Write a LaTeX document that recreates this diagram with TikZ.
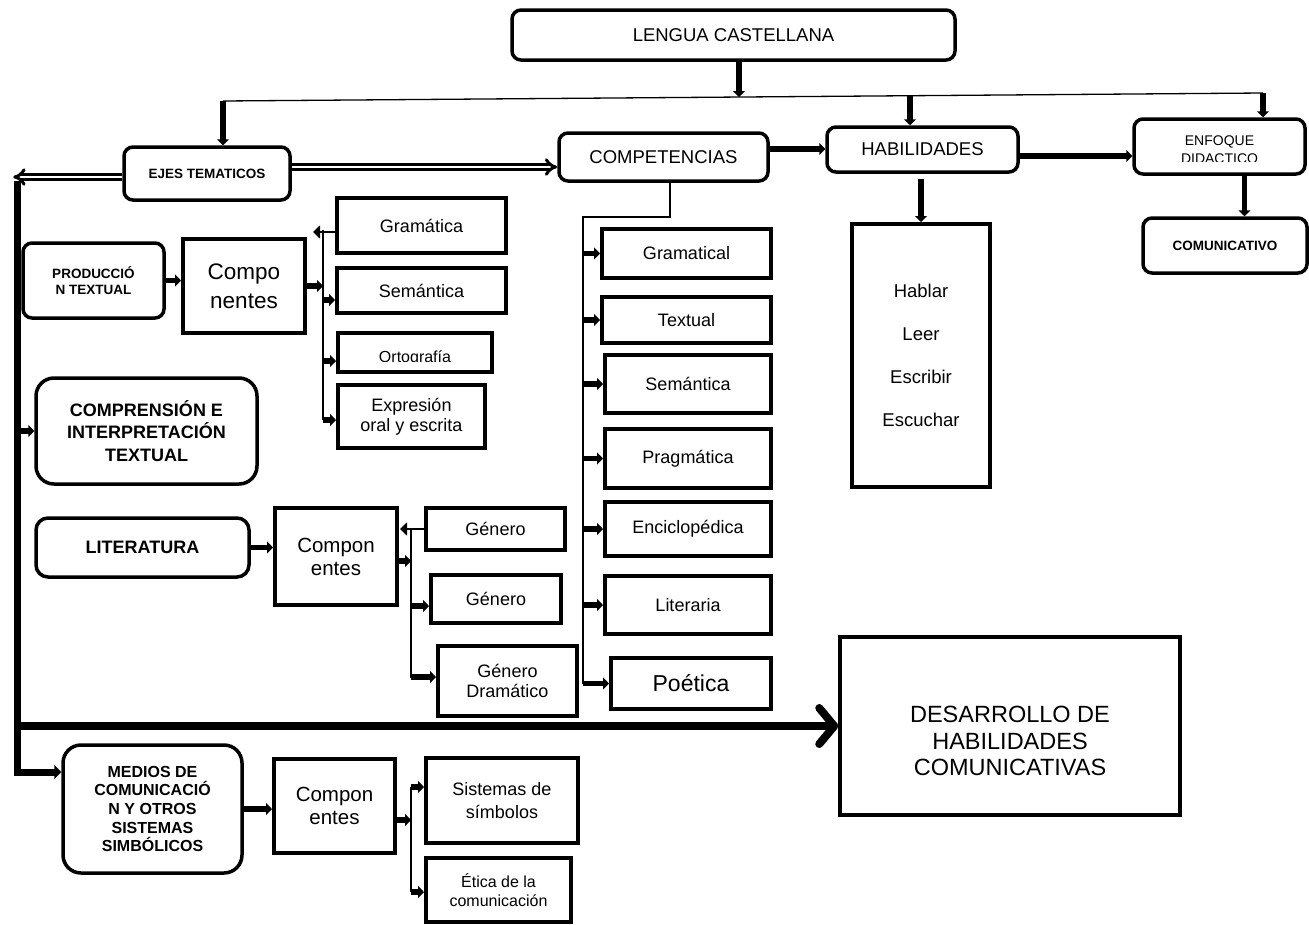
\documentclass[tikz,border=0pt]{standalone}
\usepackage{fontspec}
\setmainfont{Liberation Sans}
\usetikzlibrary{arrows.meta}
\newcommand\fsz[2]{\fontsize{#1}{#2}\selectfont}

\tikzset{
  rbox/.style={draw, line width=3.5pt, rounded corners=9pt, align=center, inner sep=0pt},
  sbox/.style={draw, line width=4pt, align=center, inner sep=0pt, font=\fsz{18}{21}},
  conn/.style={line width=1.3pt},
  arr/.style={line width=5.5pt, -{Triangle[length=6pt,width=12pt]}},
  arrs/.style={line width=2.5pt, -{Triangle[length=7pt,width=13pt]}},
  trunk/.style={line width=7pt, -{Triangle[length=7pt,width=14pt]}},
  dbl/.style={double, double distance=2.5pt, line width=3pt, -{Implies}},
  big/.style={line width=8pt, -{Straight Barb[length=15pt,width=36pt,round]}},
}

\begin{document}
\begin{tikzpicture}[x=1pt, y=-1pt]
  \useasboundingbox (0,0) rectangle (1309,924);

  % Top row
  \node[rbox, minimum width=443pt, minimum height=50pt, font=\fsz{18.5}{21}] (lc) at (733.5,35) {LENGUA CASTELLANA};
  \node[rbox, minimum width=166pt, minimum height=53pt, font=\bfseries\fsz{13.5}{16}] (ejes) at (207,173.5) {EJES TEMATICOS};
  \node[rbox, minimum width=209pt, minimum height=48pt, font=\fsz{18.5}{21}] (comp) at (663.5,157) {COMPETENCIAS};
  \node[rbox, minimum width=191pt, minimum height=45pt, font=\fsz{18.5}{21}] (hab) at (922.5,149.5) {HABILIDADES};
  \node[rbox, minimum width=171pt, minimum height=55pt] (enf) at (1219.5,146.5) {};
  \node[anchor=base, font=\fsz{14}{16}] (enfA) at (1219.5,145) {ENFOQUE};
  \begin{scope}
    \clip (1140,148) rectangle (1300,161);
    \node[anchor=base, font=\fsz{14}{16}] (enfB) at (1219.5,163) {DIDACTICO};
  \end{scope}
  \node[rbox, minimum width=164pt, minimum height=55pt, font=\bfseries\fsz{13.5}{16}] (com) at (1225,245.5) {COMUNICATIVO};
  \node[sbox, minimum width=138pt, minimum height=263pt, font=\fsz{18.5}{43}] (habl) at (921,355.5) {Hablar\\Leer\\Escribir\\Escuchar};

  % Ejes tematicos
  \node[rbox, minimum width=141pt, minimum height=75pt, font=\bfseries\fsz{13.5}{16}] (prod) at (93.5,280.5) {PRODUCCIÓ\\N TEXTUAL};
  \node[sbox, minimum width=122pt, minimum height=94pt, font=\fsz{22.5}{29}] (cmp1) at (244,286) {Compo\\nentes};
  \node[sbox, minimum width=169pt, minimum height=55pt] (gram) at (421.5,225.5) {Gramática};
  \node[sbox, minimum width=169pt, minimum height=45pt] (sem1) at (421.5,290.5) {Semántica};
  \node[sbox, minimum width=154pt, minimum height=39pt] (orto) at (415,352.5) {};
  \begin{scope}
    \clip (345,338) rectangle (488,361);
    \node[anchor=base, font=\fsz{16}{19}] (ortoT) at (415,362) {Ortografía};
  \end{scope}
  \node[sbox, minimum width=147pt, minimum height=63pt, font=\fsz{18}{20.5}] (expr) at (411.5,416.5) {Expresión\\oral y escrita};

  \node[rbox, rounded corners=18pt, minimum width=221pt, minimum height=106pt, font=\bfseries\fsz{18}{22.5}] (compr) at (146.5,431) {COMPRENSIÓN E\\INTERPRETACIÓN\\TEXTUAL};

  \node[rbox, rounded corners=12pt, minimum width=213pt, minimum height=59pt, font=\bfseries\fsz{18}{21}] (lit) at (142.5,547.5) {LITERATURA};
  \node[sbox, minimum width=122pt, minimum height=97pt, font=\fsz{20.5}{23}] (cmp2) at (336,556.5) {Compon\\entes};
  \node[sbox, minimum width=139pt, minimum height=42pt] (gen1) at (495.5,529) {Género};
  \node[sbox, minimum width=130pt, minimum height=48pt] (gen2) at (496,599) {Género};
  \node[sbox, minimum width=139pt, minimum height=70pt, font=\fsz{18}{20}] (gend) at (507.5,681) {Género\\Dramático};

  \node[rbox, rounded corners=18pt, minimum width=179pt, minimum height=128pt, font=\bfseries\fsz{16}{18.7}] (med) at (152.5,809) {MEDIOS DE\\COMUNICACIÓ\\N Y OTROS\\SISTEMAS\\SIMBÓLICOS};
  \node[sbox, minimum width=121pt, minimum height=94pt, font=\fsz{20.5}{23}] (cmp3) at (334.5,806) {Compon\\entes};
  \node[sbox, minimum width=152pt, minimum height=85pt, font=\fsz{18}{23}] (sist) at (502,800.5) {Sistemas de\\símbolos};
  \node[sbox, minimum width=145pt, minimum height=64pt, font=\fsz{16}{19}] (etica) at (498.5,890) {Ética de la\\comunicación};

  % Competencias
  \node[sbox, minimum width=169pt, minimum height=49pt] (gramatical) at (686.5,253.5) {Gramatical};
  \node[sbox, minimum width=169pt, minimum height=46pt] (textual) at (686.5,320) {Textual};
  \node[sbox, minimum width=166pt, minimum height=58pt] (sem2) at (688,384) {Semántica};
  \node[sbox, minimum width=166pt, minimum height=59pt] (prag) at (688,458.5) {Pragmática};
  \node[sbox, minimum width=166pt, minimum height=54pt] (enci) at (688,529) {Enciclopédica};
  \node[sbox, minimum width=166pt, minimum height=58pt] (liter) at (688,605) {Literaria};
  \node[sbox, minimum width=160pt, minimum height=51pt, font=\fsz{23}{26}] (poet) at (691,683.5) {Poética};

  \node[draw, line width=3.5pt, minimum width=340pt, minimum height=178pt] (des) at (1010,726) {};
  \node[align=center, font=\fsz{23.5}{26.5}] (desT) at (1010,741) {DESARROLLO DE\\HABILIDADES\\COMUNICATIVAS};

  % Top bar
  \coordinate (b1) at (223,101);
  \coordinate (b2) at (739,97);
  \coordinate (b3) at (910,96);
  \coordinate (b4) at (1263,93);
  \draw[conn] (b1) -- (b4);
  \draw[arr] (lc.south -| b2) -- (b2);
  \draw[arr] (b1) -- (b1 |- ejes.north);
  \draw[arr] (b3) -- (b3 |- hab.north);
  \draw[arr] (b4) -- (b4 |- enf.north);

  % Row of headings
  \draw[dbl] ([yshift=6.5pt]ejes.east) coordinate (t) -- (t -| comp.west);
  \draw[dbl] ([yshift=-3.5pt]ejes.west) -- ++(-109,0);
  \draw[arr] ([yshift=8pt]comp.east) coordinate (t) -- (t -| hab.west);
  \draw[arr] ([yshift=-6.5pt]hab.east) coordinate (t) -- (t -| enf.west);
  \draw[arr] (habl.north) ++(0,-43) -- (habl.north);
  \draw[arr] ([xshift=25pt]enf.south) coordinate (t) -- (t |- com.north);

  % Left trunk
  \coordinate (tT) at (17,181);
  \coordinate (tB) at (17,772);
  \draw[trunk] (tT) -- (tB) -- (tB -| med.west);
  \draw[line width=5pt] (tT |- prod.west) -- (prod.west);
  \draw[arr] (tT |- compr.west) -- (compr.west);
  \draw[big] (tT |- des.west) -- (des.west);

  % Produccion textual
  \draw[arr] (prod.east) -- (prod.east -| cmp1.west);
  \coordinate (v1t) at (323,230);
  \coordinate (v1b) at (323,420);
  \draw[conn] (v1t) -- (v1b);
  \draw[arr] (cmp1.east) -- (cmp1.east -| v1t);
  \draw[arrs] ([yshift=-6.5pt]gram.west) -- ++(-22,0);
  \foreach \n/\s in {sem1/-9.5pt, orto/-8.5pt, expr/-3.5pt}
    \draw[arr] ([yshift=\s]\n.west) coordinate (t) (t -| v1t) -- (t);

  % Literatura
  \draw[arr] (lit.east) -- (lit.east -| cmp2.west);
  \coordinate (v2t) at (411,528);
  \coordinate (v2b) at (411,678);
  \draw[conn] (v2t) -- (v2b);
  \draw[arr] ([yshift=-4.5pt]cmp2.east) coordinate (t) -- (t -| v2t);
  \draw[arrs] (gen1.west) -- ++(-24,0);
  \foreach \n/\s in {gen2/-7pt, gend/4pt}
    \draw[arr] ([yshift=\s]\n.west) coordinate (t) (t -| v2t) -- (t);

  % Medios
  \draw[arr] (med.east) -- (med.east -| cmp3.west);
  \coordinate (v3t) at (411,787);
  \coordinate (v3b) at (411,892);
  \draw[conn] (v3t) -- (v3b);
  \draw[arr] ([yshift=-14pt]cmp3.east) coordinate (t) -- (t -| v3t);
  \foreach \n/\s in {sist/13.5pt, etica/-2pt}
    \draw[arr] ([yshift=\s]\n.west) coordinate (t) (t -| v3t) -- (t);

  % Competencias
  \coordinate (c0) at (670,217);
  \coordinate (v4t) at (583,217);
  \coordinate (v4b) at (583,683.5);
  \draw[conn] (comp.south -| c0) -- (c0) -- (v4t) -- (v4b);
  \foreach \n in {gramatical,textual,sem2,prag,enci,liter,poet}
    \draw[arr] (\n.west -| v4t) -- (\n.west);

\end{tikzpicture}
\end{document}
